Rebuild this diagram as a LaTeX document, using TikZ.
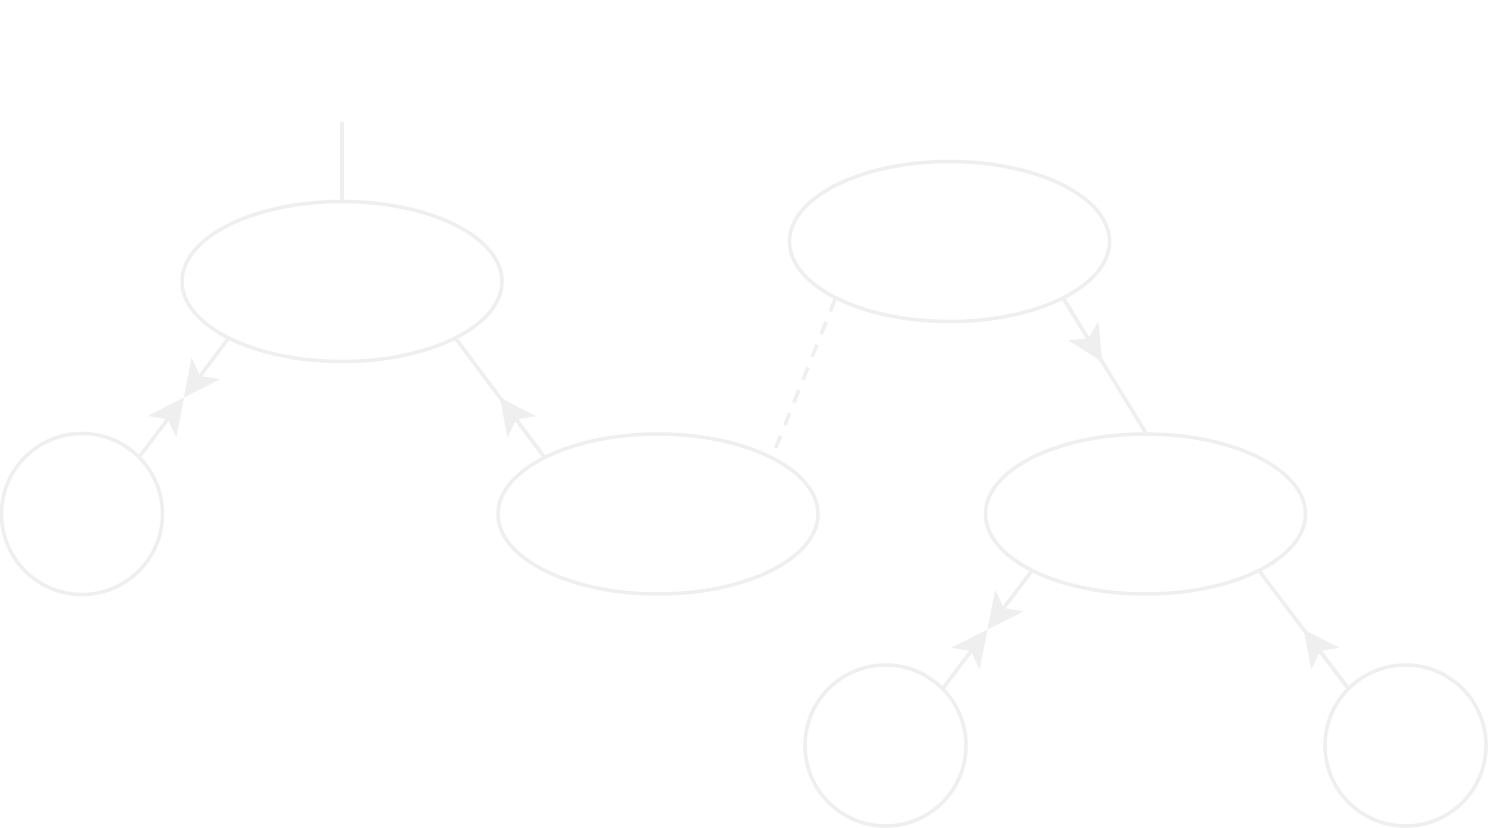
\documentclass[tikz,border=0pt]{standalone}
\usetikzlibrary{arrows.meta,shapes.geometric,calc}
\definecolor{lg}{HTML}{EFEFEF}
\begin{document}
\begin{tikzpicture}[x=0.5pt,y=-0.5pt,
  edge/.style={draw=lg,line width=1.75pt},
  tipedge/.style={edge,-{Stealth[length=18pt,width=17.5pt,inset=4.5pt]},fill=lg},
  oval/.style={ellipse,draw=lg,line width=1.75pt,minimum width=160pt,minimum height=80pt,inner sep=0pt},
  ball/.style={circle,draw=lg,line width=1.75pt,minimum size=80.5pt,inner sep=0pt}]
\fill[white] (0,0) rectangle (1488,828);
\useasboundingbox (0,0) rectangle (1488,828);
\node[oval] (A) at (342,281.5) {};
\node[ball] (L) at (82,514) {};
\node[oval] (B) at (658,514) {};
\node[oval] (C) at (949.5,241.5) {};
\node[oval] (D) at (1145.5,514) {};
\node[ball] (E) at (885.5,745.5) {};
\node[ball] (F) at (1405.5,745.5) {};
\coordinate (top) at (342,122);
% edges
\draw[edge] (top) -- (A.north);
% A - L : arrows meeting at middle
\draw[tipedge] (A.south west) -- ($(A.south west)!0.5!(L.north east)$);
\draw[tipedge] (L.north east) -- ($(A.south west)!0.5!(L.north east)$);
% A - B : arrow toward A
\draw[edge] (A.south east) -- (B.north west);
\draw[tipedge] (B.north west) -- ($(A.south east)!0.5!(B.north west)$);
% C - B dashed
\draw[edge,dash pattern=on 6.5pt off 5.75pt] (C.south west) -- (B.north east);
% C - D : arrow toward D
\draw[edge] (C.south east) -- (D.north);
\draw[tipedge] (C.south east) -- ($(C.south east)!0.47!(D.north)$);
% D - E : arrows meeting at middle
\draw[tipedge] (D.south west) -- ($(D.south west)!0.5!(E.north east)$);
\draw[tipedge] (E.north east) -- ($(D.south west)!0.5!(E.north east)$);
% D - F : arrow toward D
\draw[edge] (D.south east) -- (F.north west);
\draw[tipedge] (F.north west) -- ($(D.south east)!0.5!(F.north west)$);
\end{tikzpicture}
\end{document}
